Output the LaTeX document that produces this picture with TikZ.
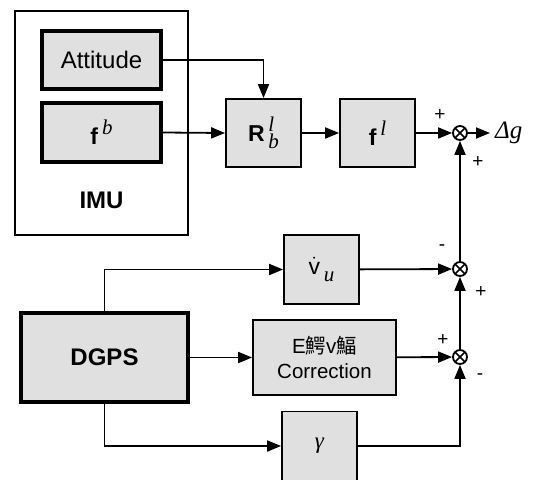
\documentclass[tikz,border=0pt]{standalone}
\usepackage{amsmath}
\usepackage{fontspec}
\setmainfont{Liberation Sans}
\newfontfamily\timesfont{Liberation Serif}
\newfontfamily\cjkfont{Noto Sans CJK SC}
\usepackage{tikz}
\usetikzlibrary{positioning, calc, arrows.meta}
\definecolor{boxgray}{RGB}{224,224,224}
\newcommand{\tit}[1]{{\timesfont\itshape #1}}
\newcommand{\upidx}[1]{\raisebox{0.42em}{\fontsize{21}{21}\selectfont\tit{#1}}}
\newcommand{\dnidx}[1]{\raisebox{-0.3em}{\fontsize{21}{21}\selectfont\tit{#1}}}
\tikzstyle{Arrow} = [
    line width=1.8pt,
    -{Triangle[length=14pt, width=11pt]}
]

\begin{document}
\begin{tikzpicture}[
x=1pt, y=-1pt,
blk/.style={
    draw,
    line width=1.8pt,
    fill=boxgray,
    inner sep=0pt,
    font=\fontsize{23}{26}\selectfont
    },
src/.style={
    blk,
    line width=3.2pt
    },
sumnode/.style={
    draw,
    circle,
    line width=1.8pt,
    minimum size=14pt,
    inner sep=0pt,
    path picture={
        \draw[line width=1.5pt]
            (path picture bounding box.north west) -- (path picture bounding box.south east)
            (path picture bounding box.north east) -- (path picture bounding box.south west);
        }
    },
sgn/.style={
    inner sep=0pt,
    font=\fontsize{19}{19}\selectfont
    }
]

\useasboundingbox (0,0) rectangle (535,479);
\clip (0,0) rectangle (535,479);

% IMU block
\node[draw, line width=1.8pt, minimum width=173pt, minimum height=224pt] (imu) at (101.5,123) {};
\node[src, minimum width=119pt, minimum height=58pt, font=\fontsize{24}{26}\selectfont] (att) at (101.5,60) {Attitude};
\node[src, minimum width=119pt, minimum height=59pt] (fb) at (101.5,132.5) {\textbf{f}\,\upidx{b}};
\node[font=\bfseries\fontsize{24}{24}\selectfont] (imulbl) at (101.5,200) {IMU};

% upper chain
\node[blk, minimum width=75pt, minimum height=68pt] (rot) at (263.5,133) {\textbf{R}\,\rlap{\upidx{l}}\dnidx{b}};
\node[blk, minimum width=75pt, minimum height=68pt] (fl) at (377.5,133) {\textbf{f}\,\upidx{l}};
\node[sumnode] (s1) at (460,133) {};
\node[anchor=west, inner sep=5pt, font=\fontsize{25}{25}\selectfont] (dg) at (490,133) {\tit{Δg}};

% DGPS branch
\node[src, minimum width=167pt, minimum height=89pt, font=\bfseries\fontsize{24}{24}\selectfont] (dgps) at (104.5,357.5) {DGPS};
\node[blk, minimum width=75pt, minimum height=69pt] (vu) at (321.5,269.5) {$\dot{\text{v}}$\,\dnidx{u}};
\node[sumnode] (s2) at (460,269) {};
\node[blk, minimum width=143pt, minimum height=75pt, align=center, font=\fontsize{20.5}{25}\selectfont] (eot) at (324.5,357.5) {E{\cjkfont 鰐}v{\cjkfont 鰏}\\Correction};
\node[sumnode] (s3) at (460,357) {};
\node[blk, minimum width=75pt, minimum height=69pt] (gam) at (319.5,446) {\tit{γ}};

% signs
\node[sgn] (s1a) at (440,115) {+};
\node[sgn] (s1b) at (478,162) {+};
\node[sgn] (s2a) at (442,248) {-};
\node[sgn] (s2b) at (481,292) {+};
\node[sgn] (s3a) at (443,340) {+};
\node[sgn] (s3b) at (480,377) {-};

\draw[Arrow] (att.east) -| (rot.north);
\draw[Arrow] (fb.east) -- (rot.west);
\draw[Arrow] (rot) -- (fl);
\draw[Arrow] (fl) -- (s1);
\draw[Arrow] (s1) -- (dg.west);

\draw[Arrow] (dgps.north) |- (vu.west);
\draw[Arrow] (dgps) -- (eot);
\draw[Arrow] (dgps.south) |- (gam.west);

\draw[Arrow] (vu) -- (s2);
\draw[Arrow] (eot) -- (s3);
\draw[Arrow] (gam.east) -| (s3.south);
\draw[Arrow] (s3) -- (s2);
\draw[Arrow] (s2) -- (s1);

\end{tikzpicture}
\end{document}
